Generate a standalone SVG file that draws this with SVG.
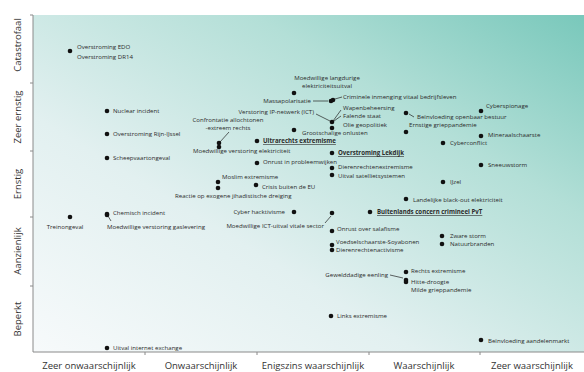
<svg xmlns="http://www.w3.org/2000/svg" width="584" height="372" viewBox="0 0 584 372">
<defs>
<linearGradient id="bg" x1="0" y1="1" x2="1" y2="0">
<stop offset="0" stop-color="#f7fafb"/>
<stop offset="0.35" stop-color="#e2f0f0"/>
<stop offset="0.7" stop-color="#b3dfd7"/>
<stop offset="1" stop-color="#79c8bb"/>
</linearGradient>
</defs>
<style>
.lb{font-family:"Open Sans","DejaVu Sans",sans-serif;font-size:6.1px;fill:#2b2b2b}
.bd{font-weight:bold;text-decoration:underline}
.ax{font-family:"Open Sans","DejaVu Sans",sans-serif;font-size:9.5px;fill:#333}
.mid{text-anchor:middle}
.end{text-anchor:end}
.d{fill:#111}
.ln{stroke:#222;stroke-width:0.7;fill:none}
.axis{stroke:#8a8a8a;stroke-width:1;fill:none}
</style>
<rect width="584" height="372" fill="#fff"/>
<rect x="33" y="15" width="551" height="337" fill="url(#bg)"/>
<g id="axes">
<path class="axis" d="M33 15V352H584"/>
<path class="axis" d="M30 15H33M30 83H33M30 151H33M30 217H33M30 286H33M145 352V355M257 352V355M369 352V355M480 352V355"/>
<text class="ax mid" transform="translate(21,45) rotate(-90)">Catastrofaal</text>
<text class="ax mid" transform="translate(21,117) rotate(-90)">Zeer ernstig</text>
<text class="ax mid" transform="translate(21,184) rotate(-90)">Ernstig</text>
<text class="ax mid" transform="translate(21,251) rotate(-90)">Aanzienlijk</text>
<text class="ax mid" transform="translate(21,319) rotate(-90)">Beperkt</text>
<text class="ax mid" x="89" y="369">Zeer onwaarschijnlijk</text>
<text class="ax mid" x="201" y="369">Onwaarschijnlijk</text>
<text class="ax mid" x="313" y="369">Enigszins waarschijnlijk</text>
<text class="ax mid" x="424" y="369">Waarschijnlijk</text>
<text class="ax mid" x="532" y="369">Zeer waarschijnlijk</text>
</g>
<g id="connectors">
<path class="ln" d="M108 216L111 221"/>
<path class="ln" d="M313 101H328"/>
<path class="ln" d="M335 99L342 97"/>
<path class="ln" d="M316 114L330 121"/>
<path class="ln" d="M333 121L341 110"/>
<path class="ln" d="M334 121L341 116"/>
<path class="ln" d="M229 132L220 142"/>
<path class="ln" d="M331 216L325 223"/>
<path class="ln" d="M390 275L403 278"/>
<path class="ln" d="M409 114L414 117"/>
</g>
<g id="overstroming-edo"><circle class="d" cx="70" cy="51" r="2.3"/><text class="lb" x="77" y="49">Overstroming EDO</text><text class="lb" x="77" y="59">Overstroming DR14</text></g>
<g id="nuclear-incident"><circle class="d" cx="107" cy="111" r="2.3"/><text class="lb" x="113" y="113">Nuclear incident</text></g>
<g id="overstroming-rijn-ijssel"><circle class="d" cx="107" cy="134" r="2.3"/><text class="lb" x="113" y="136">Overstroming Rijn-IJssel</text></g>
<g id="scheepvaartongeval"><circle class="d" cx="107" cy="158" r="2.3"/><text class="lb" x="113" y="160">Scheepvaartongeval</text></g>
<g id="chemisch-incident"><circle class="d" cx="107" cy="214" r="2.3"/><text class="lb" x="113" y="215">Chemisch incident</text></g>
<g id="gaslevering"><circle class="d" cx="107" cy="215" r="2.3"/><text class="lb" x="107" y="229">Moedwillige verstoring gaslevering</text></g>
<g id="treinongeval"><circle class="d" cx="70" cy="217" r="2.3"/><text class="lb mid" x="65" y="229">Treinongeval</text></g>
<g id="uitval-internet-exchange"><circle class="d" cx="107" cy="348" r="2.3"/><text class="lb" x="113" y="350">Uitval internet exchange</text></g>
<g id="langdurige-elektriciteitsuitval"><circle class="d" cx="294" cy="93" r="2.3"/><text class="lb mid" x="327" y="80">Moedwillige langdurige</text><text class="lb mid" x="327" y="88">elektriciteitsuitval</text></g>
<g id="massapolarisatie"><circle class="d" cx="331" cy="101" r="2.3"/><text class="lb end" x="311" y="103">Massapolarisatie</text></g>
<g id="criminele-inmenging"><circle class="d" cx="333" cy="100" r="2.3"/><text class="lb" x="343" y="99">Criminele inmenging vitaal bedrijfsleven</text></g>
<g id="verstoring-ip-netwerk"><circle class="d" cx="332" cy="122" r="2.3"/><text class="lb end" x="314" y="114">Verstoring IP-netwerk (ICT)</text></g>
<g id="wapenbeheersing"><text class="lb" x="343" y="110">Wapenbeheersing</text></g>
<g id="falende-staat"><text class="lb" x="343" y="118">Falende staat</text></g>
<g id="olie-geopolitiek"><circle class="d" cx="332" cy="128" r="2.3"/><text class="lb" x="343" y="127">Olie geopolitiek</text></g>
<g id="grootschalige-onlusten"><circle class="d" cx="294" cy="130" r="2.3"/><text class="lb" x="302" y="135">Grootschalige onlusten</text></g>
<g id="confrontatie"><circle class="d" cx="219" cy="143" r="2.3"/><text class="lb mid" x="228" y="122">Confrontatie allochtonen</text><text class="lb mid" x="228" y="130">-extreem rechts</text></g>
<g id="verstoring-elektriciteit"><circle class="d" cx="219" cy="147" r="2.3"/><text class="lb" x="193" y="153">Moedwillige verstoring elektriciteit</text></g>
<g id="ultrarechts-extremisme"><circle class="d" cx="257" cy="141" r="2.3"/><text class="lb bd" x="263" y="143">Ultrarechts extremisme</text></g>
<g id="overstroming-lekdijk"><circle class="d" cx="332" cy="153" r="2.3"/><text class="lb bd" x="338" y="155">Overstroming Lekdijk</text></g>
<g id="onrust-probleemwijken"><circle class="d" cx="257" cy="163" r="2.3"/><text class="lb" x="263" y="164">Onrust in probleemwijken</text></g>
<g id="dierenrechtenextremisme"><circle class="d" cx="332" cy="168" r="2.3"/><text class="lb" x="338" y="169">Dierenrechtenextremisme</text></g>
<g id="uitval-satellietsystemen"><circle class="d" cx="332" cy="175" r="2.3"/><text class="lb" x="338" y="177.5">Uitval satellietsystemen</text></g>
<g id="moslim-extremisme"><circle class="d" cx="218" cy="182" r="2.3"/><text class="lb" x="222" y="179">Moslim extremisme</text></g>
<g id="jihadistische-dreiging"><circle class="d" cx="218" cy="188" r="2.3"/><text class="lb" x="175" y="198">Reactie op exogene jihadistische dreiging</text></g>
<g id="crisis-buiten-eu"><circle class="d" cx="256" cy="185" r="2.3"/><text class="lb" x="262" y="189">Crisis buiten de EU</text></g>
<g id="cyber-hacktivisme"><circle class="d" cx="294" cy="212" r="2.3"/><text class="lb end" x="285" y="214">Cyber hacktivisme</text></g>
<g id="ict-uitval"><circle class="d" cx="332" cy="213" r="2.3"/><text class="lb end" x="324" y="228">Moedwillige ICT-uitval vitale sector</text></g>
<g id="onrust-salafisme"><circle class="d" cx="332" cy="231" r="2.3"/><text class="lb" x="337" y="231">Onrust over salafisme</text></g>
<g id="voedselschaarste"><circle class="d" cx="332" cy="245" r="2.3"/><text class="lb" x="336" y="243.5">Voedselschaarste-Soyabonen</text></g>
<g id="dierenrechtenactivisme"><circle class="d" cx="332" cy="250" r="2.3"/><text class="lb" x="336" y="251.5">Dierenrechtenactivisme</text></g>
<g id="gewelddadige-eenling"><circle class="d" cx="406" cy="280" r="2.3"/><text class="lb end" x="388" y="277">Gewelddadige eenling</text></g>
<g id="rechts-extremisme"><circle class="d" cx="406" cy="272" r="2.3"/><text class="lb" x="411" y="273">Rechts extremisme</text></g>
<g id="hitte-droogte"><circle class="d" cx="406" cy="282" r="2.3"/><text class="lb" x="411" y="284">Hitte-droogte</text></g>
<g id="milde-grieppandemie"><text class="lb" x="411" y="292">Milde grieppandemie</text></g>
<g id="links-extremisme"><circle class="d" cx="331" cy="316" r="2.3"/><text class="lb" x="337" y="318">Links extremisme</text></g>
<g id="aandelenmarkt"><circle class="d" cx="481" cy="340" r="2.3"/><text class="lb" x="488" y="343">Beïnvloeding aandelenmarkt</text></g>
<g id="cyberspionage"><circle class="d" cx="481" cy="111" r="2.3"/><text class="lb" x="486" y="108">Cyberspionage</text></g>
<g id="openbaar-bestuur"><circle class="d" cx="406" cy="113" r="2.3"/><text class="lb" x="417" y="119">Beïnvloeding openbaar bestuur</text></g>
<g id="ernstige-grieppandemie"><circle class="d" cx="406" cy="132" r="2.3"/><text class="lb" x="409" y="127">Ernstige grieppandemie</text></g>
<g id="mineraalschaarste"><circle class="d" cx="481" cy="136" r="2.3"/><text class="lb" x="488" y="137">Mineraalschaarste</text></g>
<g id="cyberconflict"><circle class="d" cx="443" cy="143" r="2.3"/><text class="lb" x="450" y="145">Cyberconflict</text></g>
<g id="sneeuwstorm"><circle class="d" cx="481" cy="165" r="2.3"/><text class="lb" x="488" y="167">Sneeuwstorm</text></g>
<g id="ijzel"><circle class="d" cx="443" cy="182" r="2.3"/><text class="lb" x="450" y="184">IJzel</text></g>
<g id="landelijke-black-out"><circle class="d" cx="406" cy="199" r="2.3"/><text class="lb" x="413" y="202">Landelijke black-out elektriciteit</text></g>
<g id="buitenlands-concern"><circle class="d" cx="370" cy="212" r="2.3"/><text class="lb bd" x="377" y="214">Buitenlands concern crimineel PvT</text></g>
<g id="zware-storm"><circle class="d" cx="442" cy="236" r="2.3"/><text class="lb" x="450" y="238">Zware storm</text></g>
<g id="natuurbranden"><circle class="d" cx="442" cy="244" r="2.3"/><text class="lb" x="450" y="246">Natuurbranden</text></g>
</svg>
